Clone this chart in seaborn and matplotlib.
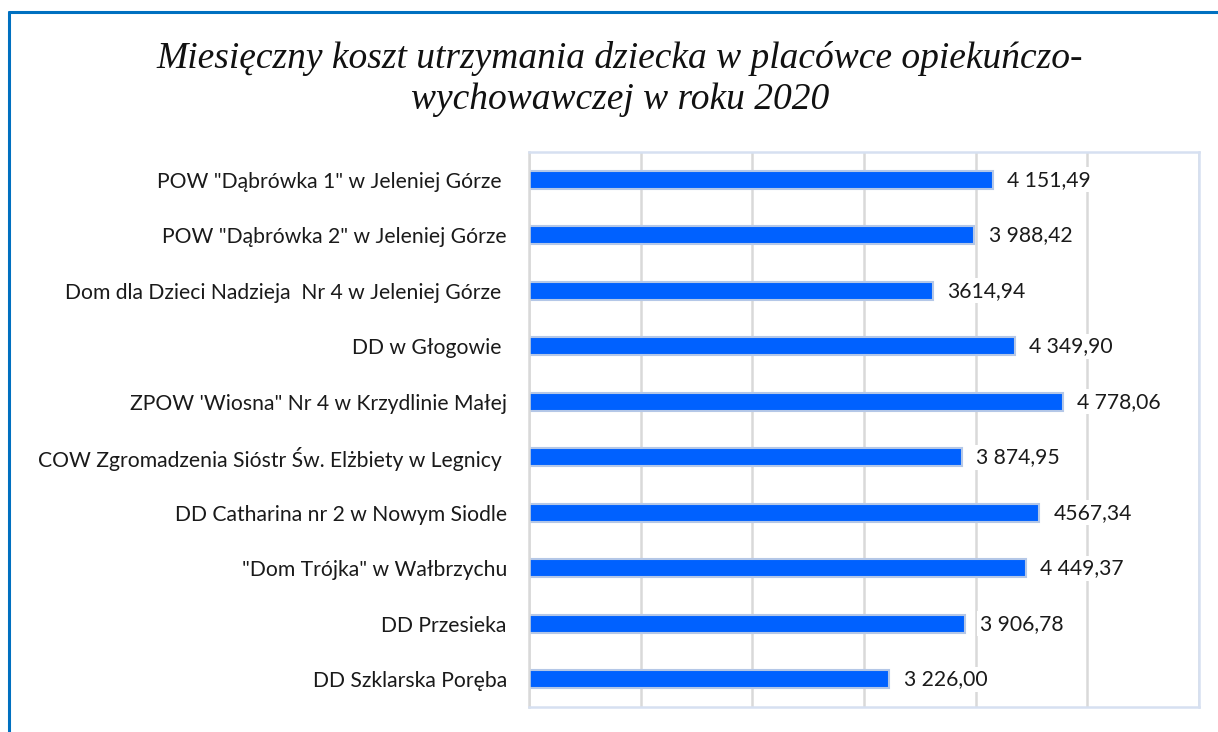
import matplotlib
matplotlib.use('Agg')
import matplotlib.pyplot as plt
import seaborn as sns
from matplotlib.lines import Line2D

# data
categories = [
    'POW "Dąbrówka 1" w Jeleniej Górze ',
    'POW "Dąbrówka 2" w Jeleniej Górze',
    'Dom dla Dzieci Nadzieja  Nr 4 w Jeleniej Górze ',
    'DD w Głogowie ',
    "ZPOW 'Wiosna\" Nr 4 w Krzydlinie Małej",
    'COW Zgromadzenia Sióstr Św. Elżbiety w Legnicy ',
    'DD Catharina nr 2 w Nowym Siodle',
    '"Dom Trójka" w Wałbrzychu',
    'DD Przesieka',
    'DD Szklarska Poręba',
]
costs = [4151.49, 3988.42, 3614.94, 4349.90, 4778.06,
         3874.95, 4567.34, 4449.37, 3906.78, 3226.00]
cost_labels = ['4 151,49', '3 988,42', '3614,94', '4 349,90', '4 778,06',
               '3 874,95', '4567,34', '4 449,37', '3 906,78', '3 226,00']
title = 'Miesięczny koszt utrzymania dziecka w placówce opiekuńczo-\nwychowawczej w roku 2020'

sns.set_style('white')
plt.rcParams['font.family'] = ['Lato', 'DejaVu Sans']

fig = plt.figure(figsize=(12.18, 7.32), dpi=100)
ax = fig.add_axes([529 / 1218, 1 - 707 / 732, 670 / 1218, 555 / 732])

sns.barplot(x=costs, y=categories, ax=ax, orient='h', color='#0061ff',
            saturation=1, width=0.33, edgecolor='#b4c7e7', linewidth=1.5)

ax.set_xlim(0, 6000)
ax.set_ylim(9.5, -0.5)
ax.set_xticks(range(0, 7000, 1000))
ax.xaxis.grid(True, color='#d9d9d9', linewidth=1.8)
ax.yaxis.grid(False)
ax.set_axisbelow(True)
ax.tick_params(axis='x', labelbottom=False, length=0)
ax.tick_params(axis='y', length=0, pad=16, labelsize=15.2, labelcolor='#1a1a1a')
ax.set_xlabel('')
ax.set_ylabel('')
for side in ['top', 'right', 'bottom']:
    ax.spines[side].set_color('#d6e0f1')
    ax.spines[side].set_linewidth(1.8)
ax.spines['left'].set_color('#d9d9d9')
ax.spines['left'].set_linewidth(1.8)

# value labels with white boxes covering the gridlines
for i, (v, lab) in enumerate(zip(costs, cost_labels)):
    ax.text(v + 130, i, lab, va='center', ha='left', fontsize=15.2,
            color='#1a1a1a', zorder=5,
            bbox=dict(facecolor='white', edgecolor='none', pad=2))

fig.text(0.509, 1 - 79 / 732, title, ha='center', va='center',
         fontsize=27, style='italic', family='Liberation Serif',
         linespacing=1.22, color='#111111')

# outer frame (only left and top edges visible)
fig.add_artist(Line2D([9 / 1218, 9 / 1218], [0, 1 - 12 / 732],
                      transform=fig.transFigure, color='#0070c0', linewidth=2.2))
fig.add_artist(Line2D([9 / 1218, 1], [1 - 12 / 732, 1 - 12 / 732],
                      transform=fig.transFigure, color='#0070c0', linewidth=2.2))

fig.savefig('out.png', dpi=100, facecolor='white')
